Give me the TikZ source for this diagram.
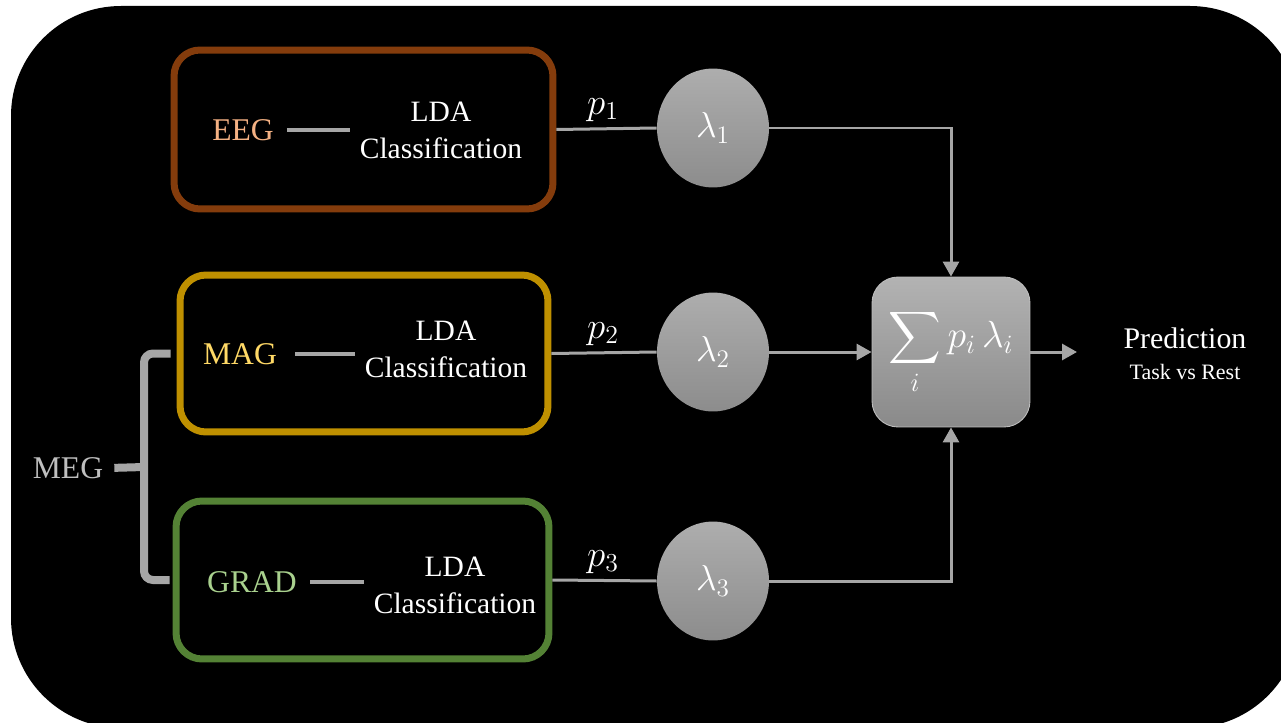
\documentclass[tikz,border=0pt]{standalone}
\usepackage{fix-cm}
\usepackage{amsmath}
\usepackage{fontspec}
\setmainfont{Liberation Serif}
\usepackage{tikz}
\usetikzlibrary{arrows.meta, shapes.geometric, positioning, calc}

\definecolor{eegline}{HTML}{843C0C}
\definecolor{eegtext}{HTML}{F4B183}
\definecolor{magline}{HTML}{BF9000}
\definecolor{magtext}{HTML}{FFD966}
\definecolor{gradline}{HTML}{548235}
\definecolor{gradtext}{HTML}{A9D18E}
\definecolor{wirec}{HTML}{A6A6A6}
\definecolor{megtext}{HTML}{BFBFBF}

\begin{document}
\begin{tikzpicture}[x=0.02cm, y=-0.02cm,
    srcbox/.style={draw=#1, line width=0.14cm, rounded corners=0.52cm, inner sep=0},
    srctxt/.style={text=#1, font=\fontsize{18}{20}\selectfont},
    ldatxt/.style={text=white, align=center, font=\fontsize{16.8}{21}\selectfont},
    weight/.style={ellipse, minimum width=2.24cm, minimum height=2.38cm, inner sep=0,
        top color=black!32, bottom color=black!45, text=white, font=\fontsize{20.5}{22}\selectfont},
    plab/.style={text=white, font=\fontsize{21}{22}\selectfont},
    wire/.style={draw=wirec, line width=0.06cm},
    tip/.style={-{Triangle[length=0.3cm, width=0.32cm]}},
    dashln/.style={draw=wirec, line width=0.08cm},
    bracel/.style={draw=wirec, line width=0.16cm, rounded corners=0.18cm}]

    % page and dark panel
    \useasboundingbox (0,0) rectangle (1281,723);
    \clip (0,0) rectangle (1281,723);
    \fill[white] (0,0) rectangle (1281,723);
    \fill[black, rounded corners=2.2cm] (11,6) rectangle (1300,728);

    % three sources
    \node[srcbox=eegline, minimum width=7.58cm, minimum height=3.18cm] (eeg) at (363.5,129.5) {};
    \node[srcbox=magline, minimum width=7.36cm, minimum height=3.14cm] (mag) at (364,353.5) {};
    \node[srcbox=gradline, minimum width=7.46cm, minimum height=3.16cm] (grad) at (362.5,580) {};

    \node[srctxt=eegtext] (eegt) at (243,130) {EEG};
    \node[srctxt=magtext] (magt) at (240,354) {MAG};
    \node[srctxt=gradtext] (gradt) at (252,582) {GRAD};

    \node[ldatxt] (lda1) at (441,130) {LDA\\Classification};
    \node[ldatxt] (lda2) at (446,349) {LDA\\Classification};
    \node[ldatxt] (lda3) at (455,585) {LDA\\Classification};

    \draw[dashln, shorten <=0.14cm, shorten >=0.07cm] (eegt.east) -- (eegt.east -| lda1.west);
    \draw[dashln, shorten <=0.24cm, shorten >=0.07cm] (magt.east) -- (magt.east -| lda2.west);
    \draw[dashln, shorten <=0.14cm, shorten >=0.07cm] (gradt.east) -- (gradt.east -| lda3.west);

    % MEG brace
    \node[srctxt=megtext] (meg) at (68,468) {MEG};
    \coordinate (bx) at (144,467);
    \draw[bracel, shorten <=0.12cm, shorten >=0.06cm] (mag.west) -| (bx) |- (grad.west);
    \draw[bracel, shorten <=0.1cm] (meg.east) -- (bx);

    % weights
    \node[weight] (c1) at (713,128) {$\lambda_1$};
    \node[weight] (c2) at (713,352) {$\lambda_2$};
    \node[weight] (c3) at (713,581) {$\lambda_3$};

    \node[plab] (p1) at (603,110) {$p_1$};
    \node[plab] (p2) at (603,334) {$p_2$};
    \node[plab] (p3) at (603,562) {$p_3$};

    % fusion
    \node[rounded corners=0.52cm, minimum width=3.16cm, minimum height=3cm, inner sep=0,
        top color=black!30, bottom color=black!46, draw=black!25, line width=0.5pt,
        text=white, font=\fontsize{21.5}{24}\selectfont] (sum) at (951,352)
        {$\displaystyle\sum_i p_i\,\lambda_i$};
    \coordinate (out) at (1077,352);

    \draw[wire] (eeg.east) -- (c1.west);
    \draw[wire] (mag.east) -- (c2.west);
    \draw[wire] (grad.east) -- (c3.west);

    \draw[wire, tip] (c1.east) -| (sum.north);
    \draw[wire, tip] (c2.east) -- (sum.west);
    \draw[wire, tip] (c3.east) -| (sum.south);
    \draw[wire, tip] (sum.east) -- (out);

    \node[text=white, font=\fontsize{17}{20}\selectfont] (pred) at (1185,338) {Prediction};
    \node[text=white, font=\fontsize{12.5}{15}\selectfont] (task) at (1185,372) {Task vs Rest};
\end{tikzpicture}
\end{document}
